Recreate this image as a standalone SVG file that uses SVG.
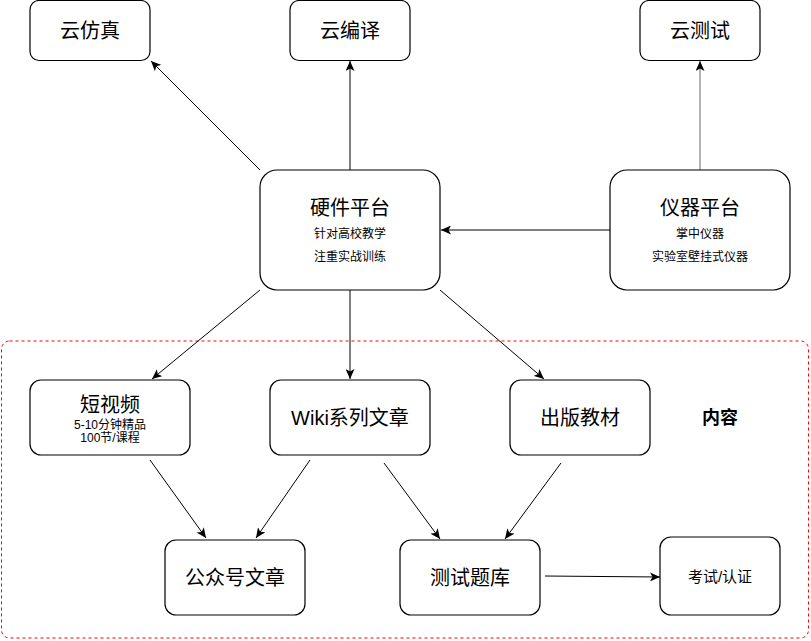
<svg xmlns="http://www.w3.org/2000/svg" width="811" height="641" viewBox="0 0 811 641">
<style>
  .box{fill:#fff;stroke:#000;stroke-width:1.2}
  .t{font-family:"Liberation Sans","Noto Sans CJK SC",sans-serif;fill:#000;text-anchor:middle;dominant-baseline:central}
  .big{font-size:20px}
  .sm{font-size:12px}
  .md{font-size:15px}
  .edge{stroke:#000;stroke-width:1;fill:none;marker-end:url(#arr)}
</style>
<defs>
  <marker id="arr" markerUnits="userSpaceOnUse" markerWidth="11" markerHeight="9" refX="10" refY="4.5" orient="auto">
    <path d="M0,0 L10,4.5 L0,9 L2.5,4.5 z" fill="#000"/>
  </marker>
</defs>
<rect x="1.5" y="341" width="807" height="297" rx="8" fill="none" stroke="#ff0000" stroke-width="1" stroke-dasharray="3,3"/>
<g id="edges">
  <line class="edge" x1="260" y1="170" x2="151" y2="61"/>
  <line class="edge" x1="350" y1="170" x2="350" y2="61"/>
  <line class="edge" x1="700" y1="170" x2="700" y2="61" style="stroke:#666"/>
  <line class="edge" x1="610" y1="230" x2="441" y2="230"/>
  <line class="edge" x1="260" y1="290" x2="152" y2="379"/>
  <line class="edge" x1="350" y1="290" x2="350" y2="379"/>
  <line class="edge" x1="440" y1="290" x2="544" y2="379"/>
  <line class="edge" x1="150" y1="460" x2="206" y2="538"/>
  <line class="edge" x1="310" y1="460" x2="256" y2="538"/>
  <line class="edge" x1="384" y1="463" x2="440" y2="539"/>
  <line class="edge" x1="561" y1="463" x2="505" y2="539"/>
  <line class="edge" x1="545" y1="576" x2="660" y2="577"/>
</g>
<g id="n-yunfangzhen">
  <rect class="box" x="30" y="0.5" width="120" height="60" rx="9"/>
  <text class="t big" x="90" y="31">云仿真</text>
</g>
<g id="n-yunbianyi">
  <rect class="box" x="290" y="0.5" width="120" height="60" rx="9"/>
  <text class="t big" x="350" y="31">云编译</text>
</g>
<g id="n-yunceshi">
  <rect class="box" x="640" y="0.5" width="120" height="60" rx="9"/>
  <text class="t big" x="700" y="31">云测试</text>
</g>
<g id="n-yingjian">
  <rect class="box" x="260" y="170" width="180" height="120" rx="17"/>
  <text class="t big" x="350" y="208">硬件平台</text>
  <text class="t sm" x="350" y="234">针对高校教学</text>
  <text class="t sm" x="350" y="257">注重实战训练</text>
</g>
<g id="n-yiqi">
  <rect class="box" x="610" y="170" width="180" height="120" rx="17"/>
  <text class="t big" x="700" y="208">仪器平台</text>
  <text class="t sm" x="700" y="234">掌中仪器</text>
  <text class="t sm" x="700" y="257">实验室壁挂式仪器</text>
</g>
<g id="n-duanshipin">
  <rect class="box" x="30" y="380" width="160" height="75" rx="11"/>
  <text class="t big" x="110" y="405">短视频</text>
  <text class="t sm" x="110" y="425">5-10分钟精品</text>
  <text class="t sm" x="110" y="438">100节/课程</text>
</g>
<g id="n-wiki">
  <rect class="box" x="270" y="380" width="160" height="75" rx="11"/>
  <text class="t big" x="350" y="418">Wiki系列文章</text>
</g>
<g id="n-chuban">
  <rect class="box" x="510" y="380" width="140" height="75" rx="11"/>
  <text class="t big" x="580" y="418">出版教材</text>
</g>
<g id="n-neirong">
  <text class="t" x="720" y="418" style="font-size:18px;font-weight:bold">内容</text>
</g>
<g id="n-gongzhonghao">
  <rect class="box" x="165" y="540" width="140" height="75" rx="11"/>
  <text class="t big" x="235" y="578">公众号文章</text>
</g>
<g id="n-tiku">
  <rect class="box" x="400" y="540" width="140" height="75" rx="11"/>
  <text class="t big" x="470" y="578">测试题库</text>
</g>
<g id="n-kaoshi">
  <rect class="box" x="660" y="537" width="120" height="78" rx="11"/>
  <text class="t md" x="720" y="576">考试/认证</text>
</g>
</svg>
